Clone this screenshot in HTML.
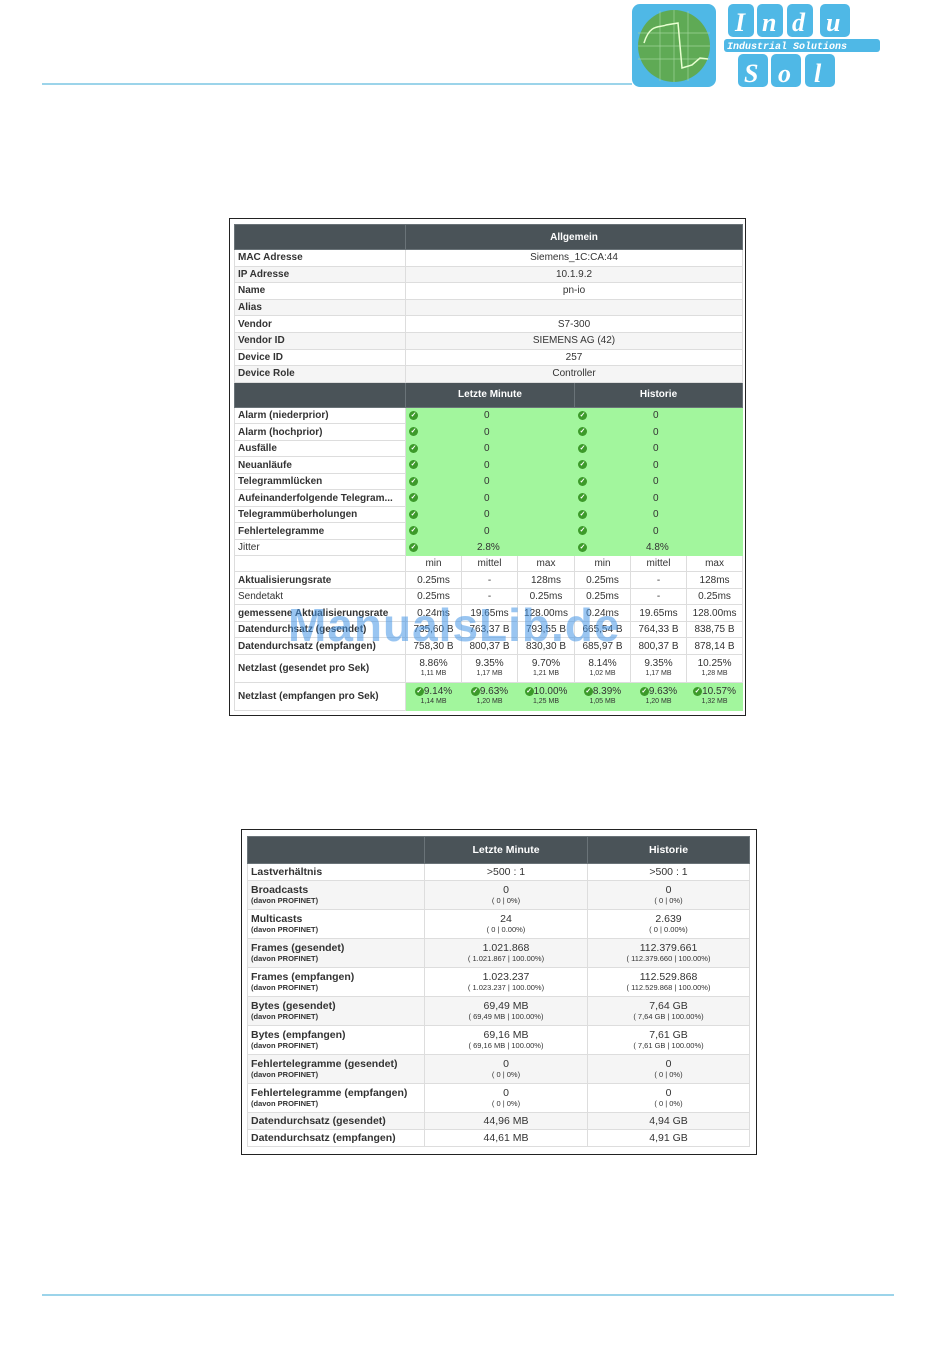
<!DOCTYPE html>
<html><head><meta charset="utf-8"><style>
body{margin:0;width:950px;height:1369px;background:#fff;position:relative;font-family:"Liberation Sans",sans-serif;overflow:hidden}
.box{position:absolute;border:1px solid #222;background:#fff}
table{border-collapse:collapse;table-layout:fixed;position:absolute}
td{font-size:10px;color:#333;padding:0 3px;border:1px solid #ddd;text-align:center;white-space:nowrap;overflow:hidden}
td.l{text-align:left;font-weight:bold;color:#333}
tr.h td{background:#4a5358;color:#fff;font-weight:bold;border-color:#6a7378}
.g{background:#a2f69d;border-color:#a2f69d}
.ck{display:inline-block;width:9px;height:9px;border-radius:50%;background:#3c9a2a;color:#fff;font-size:7px;line-height:9px;text-align:center;vertical-align:middle;font-weight:bold}
.gi{text-align:left}
.sm{font-size:7px;display:block;line-height:9px}
.t2 td{font-size:10.5px}
.t2 td.l{font-size:10.5px}
.t2 .s{font-size:7.5px;display:block;line-height:10px}
.stripe td{background:#f5f5f5}
</style></head><body>
<div style="position:absolute;left:42px;top:83px;width:590px;height:2px;background:#9cd4ea"></div>
<div style="position:absolute;left:42px;top:1294px;width:852px;height:2px;background:#9cd4ea"></div>
<svg style="position:absolute;left:630px;top:3px" width="260" height="85">
<rect x="2" y="1" width="84" height="83" rx="8" fill="#4fb8e6"/>
<circle cx="44" cy="43" r="36" fill="#5faa55"/>
<g stroke="#9fd49a" stroke-width="0.7"><line x1="8" y1="30" x2="80" y2="30"/><line x1="8" y1="43" x2="80" y2="43"/><line x1="8" y1="56" x2="80" y2="56"/><line x1="30" y1="8" x2="30" y2="78"/><line x1="44" y1="7" x2="44" y2="79"/><line x1="58" y1="8" x2="58" y2="78"/></g>
<path d="M14 40 C20 20,30 25,36 22 L48 20 L52 65 L62 62 L70 55 L78 56" stroke="#e8ffd0" stroke-width="1.5" fill="none"/>
<g fill="#4fb8e6"><rect x="98" y="1" width="26" height="33" rx="5"/><rect x="127" y="1" width="26" height="33" rx="5"/><rect x="157" y="1" width="26" height="33" rx="5"/><rect x="190" y="1" width="30" height="33" rx="5"/>
<rect x="94" y="36" width="156" height="13" rx="3"/>
<rect x="108" y="51" width="30" height="33" rx="5"/><rect x="141" y="51" width="30" height="33" rx="5"/><rect x="175" y="51" width="30" height="33" rx="5"/></g>
<g fill="#fff" font-family="Liberation Serif" font-style="italic" font-weight="bold" font-size="26">
<text x="105" y="28">I</text><text x="132" y="28">n</text><text x="162" y="28">d</text><text x="196" y="28">u</text>
<text x="114" y="79">S</text><text x="148" y="79">o</text><text x="184" y="79">l</text></g>
<text x="97" y="46" fill="#fff" font-family="Liberation Mono" font-style="italic" font-weight="bold" font-size="10">Industrial Solutions</text>
</svg>

<div class="box" style="left:229px;top:218px;width:515px;height:496px"></div>
<table style="left:234px;top:224px;width:508px">
<colgroup><col style="width:171px"><col style="width:56px"><col style="width:56px"><col style="width:57px"><col style="width:56px"><col style="width:56px"><col style="width:56px"></colgroup>
<tr class="h" style="height:25px"><td></td><td colspan="6">Allgemein</td></tr>
<tr style="height:16.6px"><td class="l">MAC Adresse</td><td colspan="6">Siemens_1C:CA:44</td></tr>
<tr style="height:16.6px" class="stripe"><td class="l">IP Adresse</td><td colspan="6">10.1.9.2</td></tr>
<tr style="height:16.6px"><td class="l">Name</td><td colspan="6">pn-io</td></tr>
<tr style="height:16.6px" class="stripe"><td class="l">Alias</td><td colspan="6"></td></tr>
<tr style="height:16.6px"><td class="l">Vendor</td><td colspan="6">S7-300</td></tr>
<tr style="height:16.6px" class="stripe"><td class="l">Vendor ID</td><td colspan="6">SIEMENS AG (42)</td></tr>
<tr style="height:16.6px"><td class="l">Device ID</td><td colspan="6">257</td></tr>
<tr style="height:16.6px" class="stripe"><td class="l">Device Role</td><td colspan="6">Controller</td></tr>
<tr class="h" style="height:25px"><td></td><td colspan="3">Letzte Minute</td><td colspan="3">Historie</td></tr>
<tr style="height:16.5px"><td class="l">Alarm (niederprior)</td><td class="g gi"><span class="ck">✓</span></td><td class="g" colspan="2" style="text-align:left;padding-left:22px">0</td><td class="g gi"><span class="ck">✓</span></td><td class="g" colspan="2" style="text-align:left;padding-left:22px">0</td></tr>
<tr style="height:16.5px"><td class="l">Alarm (hochprior)</td><td class="g gi"><span class="ck">✓</span></td><td class="g" colspan="2" style="text-align:left;padding-left:22px">0</td><td class="g gi"><span class="ck">✓</span></td><td class="g" colspan="2" style="text-align:left;padding-left:22px">0</td></tr>
<tr style="height:16.5px"><td class="l">Ausfälle</td><td class="g gi"><span class="ck">✓</span></td><td class="g" colspan="2" style="text-align:left;padding-left:22px">0</td><td class="g gi"><span class="ck">✓</span></td><td class="g" colspan="2" style="text-align:left;padding-left:22px">0</td></tr>
<tr style="height:16.5px"><td class="l">Neuanläufe</td><td class="g gi"><span class="ck">✓</span></td><td class="g" colspan="2" style="text-align:left;padding-left:22px">0</td><td class="g gi"><span class="ck">✓</span></td><td class="g" colspan="2" style="text-align:left;padding-left:22px">0</td></tr>
<tr style="height:16.5px"><td class="l">Telegrammlücken</td><td class="g gi"><span class="ck">✓</span></td><td class="g" colspan="2" style="text-align:left;padding-left:22px">0</td><td class="g gi"><span class="ck">✓</span></td><td class="g" colspan="2" style="text-align:left;padding-left:22px">0</td></tr>
<tr style="height:16.5px"><td class="l">Aufeinanderfolgende Telegram...</td><td class="g gi"><span class="ck">✓</span></td><td class="g" colspan="2" style="text-align:left;padding-left:22px">0</td><td class="g gi"><span class="ck">✓</span></td><td class="g" colspan="2" style="text-align:left;padding-left:22px">0</td></tr>
<tr style="height:16.5px"><td class="l">Telegrammüberholungen</td><td class="g gi"><span class="ck">✓</span></td><td class="g" colspan="2" style="text-align:left;padding-left:22px">0</td><td class="g gi"><span class="ck">✓</span></td><td class="g" colspan="2" style="text-align:left;padding-left:22px">0</td></tr>
<tr style="height:16.5px"><td class="l">Fehlertelegramme</td><td class="g gi"><span class="ck">✓</span></td><td class="g" colspan="2" style="text-align:left;padding-left:22px">0</td><td class="g gi"><span class="ck">✓</span></td><td class="g" colspan="2" style="text-align:left;padding-left:22px">0</td></tr>
<tr style="height:16.5px"><td class="l" style="font-weight:normal">Jitter</td><td class="g gi"><span class="ck">✓</span></td><td class="g" colspan="2" style="text-align:left;padding-left:15px">2.8%</td><td class="g gi"><span class="ck">✓</span></td><td class="g" colspan="2" style="text-align:left;padding-left:15px">4.8%</td></tr>
<tr style="height:16px"><td></td><td>min</td><td>mittel</td><td>max</td><td>min</td><td>mittel</td><td>max</td></tr>
<tr style="height:16.5px"><td class="l">Aktualisierungsrate</td><td>0.25ms</td><td>-</td><td>128ms</td><td>0.25ms</td><td>-</td><td>128ms</td></tr>
<tr style="height:16.5px"><td class="l" style="font-weight:normal">Sendetakt</td><td>0.25ms</td><td>-</td><td>0.25ms</td><td>0.25ms</td><td>-</td><td>0.25ms</td></tr>
<tr style="height:16.5px"><td class="l">gemessene Aktualisierungsrate</td><td>0.24ms</td><td>19.65ms</td><td>128.00ms</td><td>0.24ms</td><td>19.65ms</td><td>128.00ms</td></tr>
<tr style="height:16.5px"><td class="l">Datendurchsatz (gesendet)</td><td>735,60 B</td><td>763,37 B</td><td>793,55 B</td><td>665,54 B</td><td>764,33 B</td><td>838,75 B</td></tr>
<tr style="height:16.5px"><td class="l">Datendurchsatz (empfangen)</td><td>758,30 B</td><td>800,37 B</td><td>830,30 B</td><td>685,97 B</td><td>800,37 B</td><td>878,14 B</td></tr>
<tr style="height:28px"><td class="l">Netzlast (gesendet pro Sek)</td><td>8.86%<span class="sm">1,11 MB</span></td><td>9.35%<span class="sm">1,17 MB</span></td><td>9.70%<span class="sm">1,21 MB</span></td><td>8.14%<span class="sm">1,02 MB</span></td><td>9.35%<span class="sm">1,17 MB</span></td><td>10.25%<span class="sm">1,28 MB</span></td></tr>
<tr style="height:28px"><td class="l">Netzlast (empfangen pro Sek)</td><td class="g"><span class="ck">✓</span>9.14%<span class="sm">1,14 MB</span></td><td class="g"><span class="ck">✓</span>9.63%<span class="sm">1,20 MB</span></td><td class="g"><span class="ck">✓</span>10.00%<span class="sm">1,25 MB</span></td><td class="g"><span class="ck">✓</span>8.39%<span class="sm">1,05 MB</span></td><td class="g"><span class="ck">✓</span>9.63%<span class="sm">1,20 MB</span></td><td class="g"><span class="ck">✓</span>10.57%<span class="sm">1,32 MB</span></td></tr>
</table>
<div style="position:absolute;left:288px;top:598px;font-size:46px;font-weight:bold;color:rgba(70,150,230,0.55);letter-spacing:1px">ManualsLib.de</div>

<div class="box" style="left:241px;top:829px;width:514px;height:324px"></div>
<table class="t2" style="left:247px;top:836px;width:502px">
<colgroup><col style="width:177px"><col style="width:163px"><col style="width:162px"></colgroup>
<tr class="h" style="height:27px"><td></td><td>Letzte Minute</td><td>Historie</td></tr>
<tr style="height:17px"><td class="l">Lastverhältnis</td><td>&gt;500 : 1</td><td>&gt;500 : 1</td></tr>
<tr style="height:29px" class="stripe"><td class="l">Broadcasts<span class="s">(davon PROFINET)</span></td><td>0<span class="s">( 0 | 0%)</span></td><td>0<span class="s">( 0 | 0%)</span></td></tr>
<tr style="height:29px"><td class="l">Multicasts<span class="s">(davon PROFINET)</span></td><td>24<span class="s">( 0 | 0.00%)</span></td><td>2.639<span class="s">( 0 | 0.00%)</span></td></tr>
<tr style="height:29px" class="stripe"><td class="l">Frames (gesendet)<span class="s">(davon PROFINET)</span></td><td>1.021.868<span class="s">( 1.021.867 | 100.00%)</span></td><td>112.379.661<span class="s">( 112.379.660 | 100.00%)</span></td></tr>
<tr style="height:29px"><td class="l">Frames (empfangen)<span class="s">(davon PROFINET)</span></td><td>1.023.237<span class="s">( 1.023.237 | 100.00%)</span></td><td>112.529.868<span class="s">( 112.529.868 | 100.00%)</span></td></tr>
<tr style="height:29px" class="stripe"><td class="l">Bytes (gesendet)<span class="s">(davon PROFINET)</span></td><td>69,49 MB<span class="s">( 69,49 MB | 100.00%)</span></td><td>7,64 GB<span class="s">( 7,64 GB | 100.00%)</span></td></tr>
<tr style="height:29px"><td class="l">Bytes (empfangen)<span class="s">(davon PROFINET)</span></td><td>69,16 MB<span class="s">( 69,16 MB | 100.00%)</span></td><td>7,61 GB<span class="s">( 7,61 GB | 100.00%)</span></td></tr>
<tr style="height:29px" class="stripe"><td class="l">Fehlertelegramme (gesendet)<span class="s">(davon PROFINET)</span></td><td>0<span class="s">( 0 | 0%)</span></td><td>0<span class="s">( 0 | 0%)</span></td></tr>
<tr style="height:29px"><td class="l">Fehlertelegramme (empfangen)<span class="s">(davon PROFINET)</span></td><td>0<span class="s">( 0 | 0%)</span></td><td>0<span class="s">( 0 | 0%)</span></td></tr>
<tr style="height:17px" class="stripe"><td class="l">Datendurchsatz (gesendet)</td><td>44,96 MB</td><td>4,94 GB</td></tr>
<tr style="height:17px"><td class="l">Datendurchsatz (empfangen)</td><td>44,61 MB</td><td>4,91 GB</td></tr>
</table>
</body></html>
